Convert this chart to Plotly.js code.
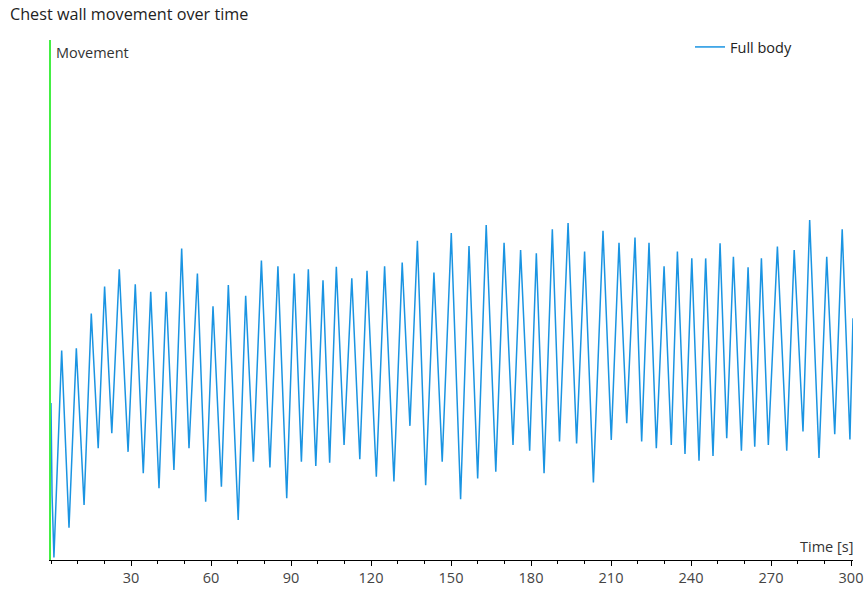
<!DOCTYPE html>
<html>
<head>
<meta charset="utf-8">
<script src="https://cdn.plot.ly/plotly-3.0.1.min.js"></script>
<style>
  html, body { margin: 0; padding: 0; background: #fff; }
  #chart { width: 867px; height: 592px; }
</style>
</head>
<body>
<div id="chart"></div>
<script>
// Time stamps (s) of the turning points
const timeSec = [
  0, 0.4, 1.1, 4.0, 6.75, 9.5, 12.4, 15.1, 17.7, 20.1, 22.8, 25.6, 28.9, 31.6, 34.6, 37.4, 40.5,
  43.2, 46.1, 49.0, 51.75, 54.9, 58.0, 60.75, 63.9, 66.5, 70.2, 73.0, 75.9, 78.9, 82.1,
  85.1, 88.4, 91.2, 93.9, 96.5, 99.3, 102.0, 104.5, 107.0, 109.9, 112.8, 115.8, 118.5,
  122.0, 125.1, 128.6, 131.7, 134.6, 137.4, 140.5, 143.6, 146.7, 150.1, 153.6, 156.75,
  160.0, 163.2, 166.8, 169.9, 173.25, 176.1, 179.5, 182.0, 184.9, 188.0, 190.7, 193.9,
  197.1, 200.1, 203.4, 207.0, 210.1, 213.0, 215.9, 219.0, 221.5, 224.25, 227.0, 229.9,
  232.6, 234.9, 237.75, 240.3, 243.0, 245.5, 248.25, 250.9, 253.4, 255.9, 258.9, 261.4,
  263.9, 266.4, 269.0, 272.4, 275.9, 278.7, 282.0, 284.5, 288.0, 290.9, 293.9, 296.7,
  299.6, 300.75
];
// Movement values (arbitrary units, 0-100 scale)
const movement = [
  30.2, 12.5, 0.5, 40.3, 6.2, 40.7, 10.6, 47.4, 21.5, 52.6, 24.4, 55.9, 20.8, 53.0, 16.7, 51.6, 13.8,
  51.6, 17.3, 59.9, 21.5, 55.1, 11.2, 48.8, 14.1, 52.9, 7.7, 50.8, 18.9, 57.6, 17.8,
  56.5, 11.9, 55.1, 18.9, 55.9, 18.1, 53.8, 18.7, 56.4, 22.1, 54.2, 19.4, 55.6,
  16.0, 56.5, 15.1, 57.2, 25.8, 61.4, 14.4, 55.3, 18.9, 62.9, 11.7, 60.4,
  15.7, 64.4, 17.0, 61.0, 22.1, 59.6, 21.0, 59.0, 16.7, 63.6, 22.8, 64.8,
  22.4, 59.3, 14.9, 63.3, 23.1, 61.0, 26.3, 62.0, 22.8, 61.0, 21.5, 56.5,
  22.1, 59.3, 20.4, 58.0, 19.1, 58.0, 20.0, 60.9, 23.4, 58.3, 21.0, 56.3,
  21.8, 58.0, 22.1, 60.3, 21.0, 59.6, 24.7, 65.4, 19.6, 58.3, 24.2, 63.6,
  23.2, 46.5
];
const tickValues = [30, 60, 90, 120, 150, 180, 210, 240, 270, 300];
const tickLabels = ["30", "60", "90", "120", "150", "180", "210", "240", "270", "300"];
const seriesName = "Full body";

const FONT = '"Segoe UI", "Open Sans", "Noto Sans", sans-serif';

const trace = {
  x: timeSec,
  y: movement,
  type: 'scatter',
  mode: 'lines',
  name: seriesName,
  line: { color: '#1a94e2', width: 1.5 },
  hoverinfo: 'x+y'
};

const layout = {
  width: 867,
  height: 592,
  margin: { l: 51, r: 14, t: 40, b: 32, pad: 0 },
  paper_bgcolor: '#ffffff',
  plot_bgcolor: '#ffffff',
  font: { family: FONT, size: 14.5, color: '#333333' },
  title: {
    text: 'Chest wall movement over time',
    font: { family: FONT, size: 16.2, color: '#222222' },
    x: 10 / 867, xref: 'container', xanchor: 'left',
    y: 1 - 14 / 592, yref: 'container', yanchor: 'middle'
  },
  showlegend: true,
  legend: {
    x: (690 - 51) / 802, xanchor: 'left',
    y: 1 + 9 / 520, yanchor: 'top',
    bgcolor: 'rgba(0,0,0,0)',
    font: { family: FONT, size: 14.5, color: '#222222' },
    itemwidth: 30
  },
  xaxis: {
    range: [0, 300.75],
    showgrid: false,
    zeroline: false,
    showline: true,
    linecolor: '#000000',
    linewidth: 1,
    tickmode: 'array',
    tickvals: tickValues,
    ticktext: tickLabels,
    ticks: 'outside',
    ticklen: 5,
    tickwidth: 1,
    tickcolor: '#000000',
    tickfont: { family: FONT, size: 14.5, color: '#444444' },
    minor: { dtick: 10, tick0: 0, ticks: 'outside', ticklen: 3, tickwidth: 1, tickcolor: '#000000', showgrid: false },
    fixedrange: true
  },
  yaxis: {
    range: [0, 100],
    showgrid: false,
    zeroline: false,
    showline: true,
    linecolor: '#44ee44',
    linewidth: 2,
    showticklabels: false,
    ticks: '',
    layer: 'below traces',
    fixedrange: true
  },
  annotations: [
    {
      text: 'Movement', xref: 'paper', yref: 'paper',
      x: 3 / 802, y: 1 - 12 / 520, xanchor: 'left', yanchor: 'middle',
      showarrow: false, font: { family: FONT, size: 14.5, color: '#333333' }
    },
    {
      text: 'Time [s]', xref: 'paper', yref: 'paper',
      x: 1.002, y: 14 / 520, xanchor: 'right', yanchor: 'middle',
      showarrow: false, font: { family: FONT, size: 14.5, color: '#333333' }
    }
  ]
};

Plotly.newPlot('chart', [trace], layout, { displayModeBar: false, staticPlot: true });
</script>
</body>
</html>
